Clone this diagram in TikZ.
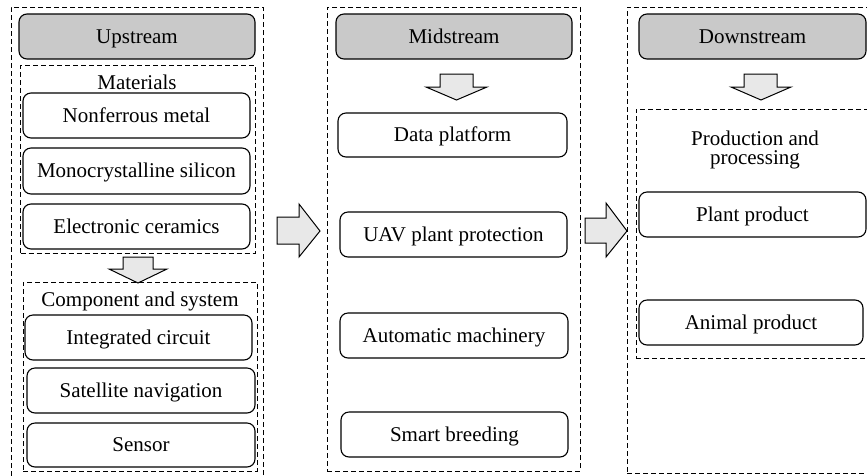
\documentclass[tikz,border=0pt]{standalone}
\usepackage{fontspec}
\setmainfont{Liberation Serif}
\definecolor{hdrgray}{RGB}{201,201,201}
\definecolor{arrgray}{RGB}{232,232,232}
\begin{document}
\begin{tikzpicture}[x=1pt,y=-1pt,
  every node/.style={inner sep=0pt, outer sep=0pt, font=\fontsize{21}{19}\selectfont},
  txt/.style={text height=13pt, text depth=0pt},
  rbox/.style={draw, txt, rounded corners=8pt, line width=1.1pt, minimum height=45pt},
  hdr/.style={rbox, fill=hdrgray},
  dbox/.style={draw, line width=1pt, dash pattern=on 5pt off 3pt},
  blockarrow/.style={draw, line width=1pt, fill=arrgray, line join=miter}]
\useasboundingbox (0,0) rectangle (867,475);
\clip (0,0) rectangle (867,475);

% ---------- Upstream ----------
\node[dbox, minimum width=252pt, minimum height=480pt] (upo) at (137,247) {};
\node[hdr, minimum width=236pt] (uph) at (137,36.5) {Upstream};
\node[dbox, minimum width=234.5pt, minimum height=188pt] (mat) at (137.75,159) {};
\node[txt] (matl) at (137,83) {Materials};
\node[rbox, minimum width=227pt] (nfm) at (136.5,115.5) {Nonferrous metal};
\node[rbox, minimum width=227pt, minimum height=46pt] (mcs) at (136.5,171) {Monocrystalline silicon};
\node[rbox, minimum width=227pt] (ecr) at (136.5,226.5) {Electronic ceramics};
\draw[blockarrow] (123,257) -- (153,257) -- (153,269) -- (167,269) -- (138,283)
  -- (109,269) -- (123,269) -- cycle;
\node[dbox, minimum width=234pt, minimum height=189pt] (cmp) at (140,376.5) {};
\node[txt] (cmpl) at (140,300) {Component and system};
\node[rbox, minimum width=227pt] (icr) at (138.5,337.5) {Integrated circuit};
\node[rbox, minimum width=228pt] (snv) at (141,390.5) {Satellite navigation};
\node[rbox, minimum width=228pt, minimum height=44pt] (sns) at (141,445) {Sensor};

% arrow upstream -> midstream
\draw[blockarrow] (277,217) -- (299,217) -- (299,204) -- (320,231) -- (299,257)
  -- (299,244) -- (277,244) -- cycle;

% ---------- Midstream ----------
\node[dbox, minimum width=253pt, minimum height=464pt] (mdo) at (453.5,239) {};
\node[hdr, minimum width=236pt] (mdh) at (454,36.5) {Midstream};
\draw[blockarrow] (440,74) -- (473,74) -- (473,87) -- (487,87) -- (456.5,100)
  -- (426,87) -- (440,87) -- cycle;
\node[rbox, minimum width=229pt, minimum height=44pt] (dpf) at (452.5,135) {Data platform};
\node[rbox, minimum width=227pt] (uav) at (453.5,234.5) {UAV plant protection};
\node[rbox, minimum width=228pt] (amc) at (454,335.5) {Automatic machinery};
\node[rbox, minimum width=227pt] (smb) at (454.5,434.5) {Smart breeding};

% arrow midstream -> downstream
\draw[blockarrow] (585,218) -- (606,218) -- (606,203) -- (627,231) -- (606,257)
  -- (606,243) -- (585,243) -- cycle;

% ---------- Downstream ----------
\node[dbox, minimum width=253pt, minimum height=466pt] (dso) at (753.5,240) {};
\node[hdr, minimum width=227pt] (dsh) at (752.5,36.5) {Downstream};
\draw[blockarrow] (744,74) -- (777,74) -- (777,87) -- (791,87) -- (761,100)
  -- (731,87) -- (744,87) -- cycle;
\node[dbox, minimum width=244pt, minimum height=249pt] (pap) at (758,233.5) {};
\node[align=center] (papl) at (755,150) {Production and\\processing};
\node[rbox, minimum width=227pt] (plp) at (752.5,214.5) {Plant product};
\node[rbox, minimum width=224pt] (anp) at (751,322.5) {Animal product};
\end{tikzpicture}
\end{document}
